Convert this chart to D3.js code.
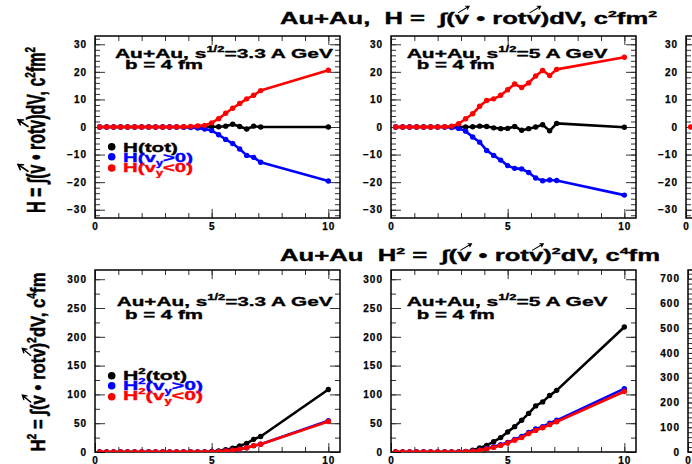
<!DOCTYPE html>
<html><head><meta charset="utf-8">
<script src="https://cdn.jsdelivr.net/npm/d3@7"></script>
<style>
html,body{margin:0;padding:0;background:#fff;}
svg{display:block;font-family:"Liberation Sans",Arial,Helvetica,sans-serif;font-weight:bold;}
text{white-space:pre;}
</style></head><body>
<svg id="chart" width="692" height="464"></svg>
<script>
// time steps, fm/c
const tSteps = [0.2,0.5,0.8,1.1,1.4,1.7,2.0,2.3,2.6,2.9,3.2,3.5,3.8,4.1,4.4,4.7,5.0,5.3,5.6,5.9,6.2,6.5,6.8,7.1,10];

// H = integral of v.rot v, sqrt(s)=3.3 A GeV
const hTot33 = [0,0,0,0,0,0,0,0,0,0,0,0,0,0,0,0,0.1,0.1,0.3,1.0,0.2,-0.7,0.3,0,0];
const hPos33 = [0,0,0,0,0,0,0,0,0,0,0,0,-0.1,-0.2,-0.4,-0.7,-1.3,-2.8,-4.5,-6.0,-8.0,-10.3,-11.0,-12.8,-19.6];
const hNeg33 = [0,0,0,0,0,0,0,0,0,0,0,0,0.1,0.2,0.4,0.6,1.5,3.0,5.0,6.8,8.5,10.2,11.5,13.2,20.6];

// H, sqrt(s)=5 A GeV
const hTot5 = [0,0,0,0,0,0,0,0,0,0,0,0.1,0.3,0.2,-0.3,-0.6,-0.5,0.2,-1.2,-0.6,0,0.8,-1.4,1.3,-0.1];
const hPos5 = [0,0,0,0,0,0,0,0,-0.2,-0.5,-1.5,-3.6,-5.5,-8.5,-10.3,-12.0,-14.0,-15.0,-15.2,-16.5,-18.5,-19.5,-19.2,-19.4,-24.7];
const hNeg5 = [0,0,0,0,0,0,0,0.1,0.3,1.2,3.0,4.8,7.5,9.6,10.2,11.5,13.5,15.6,14.3,16.0,18.5,20.5,18.7,20.9,25.3];

// H^2, sqrt(s)=3.3 A GeV
const h2Tot33 = [0,0,0,0,0,0,0,0,0,0,0,0,0,0,0,0.3,0.8,2,4,6.5,10.5,15,22,27,108.5];
const h2Pos33 = [0,0,0,0,0,0,0,0,0,0,0,0,0,0,0,0,0.3,0.8,2,3.2,5,7.5,11,13.5,54.5];
const h2Neg33 = [0,0,0,0,0,0,0,0,0,0,0,0,0,0,0,0,0.3,0.8,2,3.2,5,7.5,11,13.5,53];

// H^2, sqrt(s)=5 A GeV
const h2Tot5 = [0,0,0,0,0,0,0,0,0,0.3,1,3,7,11.5,18,25,34.8,44,55,67,80,87,98,107,217];
const h2Pos5 = [0,0,0,0,0,0,0,0,0,0,0.5,1.5,3.5,6,9,12.5,16.5,22,27,34,40,44,50,55,110];
const h2Neg5 = [0,0,0,0,0,0,0,0,0,0,0.5,1.3,3,5.5,8,11.5,15.5,20.5,25,32,37.5,42,47.5,52.5,105];

// neighbouring panel (only its left edge shows)
const edgeT = [0.2];
const edgeH = [0];

// axis tick labels
const xTicks = [0,5,10];
const hTicks = [-30,-20,-10,0,10,20,30];
const h2Ticks = [0,50,100,150,200,250,300];
const edgeH2Ticks = [0,100,200,300,400,500,600,700];

// text pieces
const titleTop = [{t:"Au+Au,  H =  \u222B("},{t:"v",arrow:1},{t:" \u2022 rot"},{t:"v",arrow:1},{t:")dV, c"},{t:"2",sup:1},{t:"fm"},{t:"2",sup:1}];
const titleBottom = [{t:"Au+Au  H"},{t:"2",sup:1},{t:" =  \u222B("},{t:"v",arrow:1},{t:" \u2022 rot"},{t:"v",arrow:1},{t:")"},{t:"2",sup:1},{t:"dV, c"},{t:"4",sup:1},{t:"fm"}];
const yTitleTop = [{t:"H = \u222B("},{t:"v",arrow:1},{t:" \u2022 rot"},{t:"v",arrow:1},{t:")dV, c"},{t:"2",sup:1},{t:"fm"},{t:"2",sup:1}];
const yTitleBottom = [{t:"H"},{t:"2",sup:1},{t:" = \u222B("},{t:"v",arrow:1},{t:" \u2022 rot"},{t:"v",arrow:1},{t:")"},{t:"2",sup:1},{t:"dV, c"},{t:"4",sup:1},{t:"fm"}];
const energy33 = [{t:"Au+Au, s"},{t:"1/2",sup:1},{t:"=3.3 A GeV"}];
const energy5 = [{t:"Au+Au, s"},{t:"1/2",sup:1},{t:"=5 A GeV"}];
const impact = [{t:"b = 4 fm"}];
const legendH = [
  [{t:"H(tot)"}],
  [{t:"H(v"},{t:"y",sub:1},{t:">0)"}],
  [{t:"H(v"},{t:"y",sub:1},{t:"<0)"}]
];
const legendH2 = [
  [{t:"H"},{t:"2",sup:1},{t:"(tot)"}],
  [{t:"H"},{t:"2",sup:1},{t:"(v"},{t:"y",sub:1},{t:">0)"}],
  [{t:"H"},{t:"2",sup:1},{t:"(v"},{t:"y",sub:1},{t:"<0)"}]
];

const BLACK = "#000000", BLUE = "#0000ff", RED = "#ff0000";
const seriesColors = [BLACK, BLUE, RED];

const svg = d3.select("#chart");
const defs = svg.append("defs");

// Lay out a run of text pieces (with sup/sub and vector arrows), stretched to a given width
function rich(parent, segs, o) {
  const g = parent.append("g")
    .attr("transform", `translate(${o.x},${o.y})` + (o.rotate ? " rotate(-90)" : ""));
  const inner = g.append("g");
  const fs = o.fs;
  const col = o.color || BLACK;
  let cx = 0;
  const arrows = [];
  segs.forEach(s => {
    const small = s.sup || s.sub;
    const el = inner.append("text")
      .attr("x", cx)
      .attr("y", s.sup ? -fs * 0.42 : s.sub ? fs * 0.3 : 0)
      .attr("font-size", small ? fs * 0.62 : fs)
      .attr("fill", col)
      .attr("stroke", col).attr("stroke-width", o.heavy || 0.35)
      .text(s.t);
    const w = el.node().getComputedTextLength();
    if (s.arrow) arrows.push([cx, w]);
    cx += w;
  });
  const sx = o.width ? o.width / cx : 1;
  inner.attr("transform", `scale(${sx},1)`);
  arrows.forEach(([ax, w]) => {
    const x0 = (ax + w * 0.25) * sx, y0 = -fs * 0.68;
    const x1 = (ax + w * 1.0) * sx, y1 = -fs * 1.08;
    const a = Math.atan2(y1 - y0, x1 - x0);
    const hl = fs * 0.22;
    const p1 = [x1 - hl * Math.cos(a - 0.55), y1 - hl * Math.sin(a - 0.55)];
    const p2 = [x1 - hl * Math.cos(a + 0.55), y1 - hl * Math.sin(a + 0.55)];
    g.append("path")
      .attr("d", `M${x0},${y0}L${x1},${y1}M${p1[0]},${p1[1]}L${x1},${y1}L${p2[0]},${p2[1]}`)
      .attr("fill", "none").attr("stroke", col)
      .attr("stroke-width", Math.max(1.1, fs * 0.065)).attr("stroke-linecap", "round");
  });
  return g;
}

const panels = [
  {left:95,  top:36,  w:245, h:182, yDom:[-33,33], yTicks:hTicks, yMinor:2,
   series:[{t:tSteps,v:hTot33},{t:tSteps,v:hPos33},{t:tSteps,v:hNeg33}]},
  {left:391, top:36,  w:245, h:182, yDom:[-33,33], yTicks:hTicks, yMinor:2,
   series:[{t:tSteps,v:hTot5},{t:tSteps,v:hPos5},{t:tSteps,v:hNeg5}]},
  {left:686, top:36,  w:245, h:182, yDom:[-33,33], yTicks:hTicks, yMinor:2,
   series:[{t:edgeT,v:edgeH,c:RED}]},
  {left:95,  top:270, w:245, h:182, yDom:[0,316], yTicks:h2Ticks, yMinor:25, clip:true,
   series:[{t:tSteps,v:h2Tot33},{t:tSteps,v:h2Pos33},{t:tSteps,v:h2Neg33}]},
  {left:391, top:270, w:245, h:182, yDom:[0,316], yTicks:h2Ticks, yMinor:25, clip:true,
   series:[{t:tSteps,v:h2Tot5},{t:tSteps,v:h2Pos5},{t:tSteps,v:h2Neg5}]},
  {left:688, top:270, w:245, h:182, yDom:[0,735], yTicks:edgeH2Ticks, yMinor:20, clip:true,
   series:[]}
];

panels.forEach((p, pi) => {
  const x = d3.scaleLinear().domain([0, 10.5]).range([p.left, p.left + p.w]);
  const y = d3.scaleLinear().domain(p.yDom).range([p.top + p.h, p.top]);
  const g = svg.append("g");
  const xMinor = d3.range(0, 10.5, 1);
  const yMinor = d3.range(Math.ceil(p.yDom[0] / p.yMinor) * p.yMinor, p.yDom[1] + 1e-9, p.yMinor);
  const fmt = d3.format("d");

  const styleAxis = sel => {
    sel.select(".domain").remove();
    sel.selectAll(".tick line").attr("stroke", "#333").attr("stroke-width", 1);
    sel.selectAll(".tick text").attr("font-size", 10).attr("font-weight", "bold")
      .attr("letter-spacing", 1).attr("fill", BLACK)
      .attr("stroke", BLACK).attr("stroke-width", 0.25)
      .attr("font-family", '"Liberation Sans",Arial,sans-serif');
  };

  // minor ticks on all four sides
  g.append("g").attr("transform", `translate(${p.left},0)`)
    .call(d3.axisLeft(y).tickValues(yMinor).tickSizeInner(-5).tickSizeOuter(0).tickFormat(""))
    .call(styleAxis);
  g.append("g").attr("transform", `translate(${p.left + p.w},0)`)
    .call(d3.axisRight(y).tickValues(yMinor).tickSizeInner(-5).tickSizeOuter(0).tickFormat(""))
    .call(styleAxis);
  g.append("g").attr("transform", `translate(0,${p.top + p.h})`)
    .call(d3.axisBottom(x).tickValues(xMinor).tickSizeInner(-5).tickSizeOuter(0).tickFormat(""))
    .call(styleAxis);
  g.append("g").attr("transform", `translate(0,${p.top})`)
    .call(d3.axisTop(x).tickValues(xMinor).tickSizeInner(-5).tickSizeOuter(0).tickFormat(""))
    .call(styleAxis);

  // major ticks and labels
  g.append("g").attr("transform", `translate(${p.left},0)`)
    .call(d3.axisLeft(y).tickValues(p.yTicks).tickSizeInner(-10).tickSizeOuter(0).tickPadding(8).tickFormat(fmt))
    .call(styleAxis)
    .call(s => s.selectAll(".tick text").attr("text-anchor", "end"));
  g.append("g").attr("transform", `translate(${p.left + p.w},0)`)
    .call(d3.axisRight(y).tickValues(p.yTicks).tickSizeInner(-10).tickSizeOuter(0).tickFormat(""))
    .call(styleAxis);
  g.append("g").attr("transform", `translate(0,${p.top + p.h})`)
    .call(d3.axisBottom(x).tickValues(xTicks).tickSizeInner(-9).tickSizeOuter(0).tickPadding(5).tickFormat(fmt))
    .call(styleAxis);
  g.append("g").attr("transform", `translate(0,${p.top})`)
    .call(d3.axisTop(x).tickValues(xTicks).tickSizeInner(-9).tickSizeOuter(0).tickFormat(""))
    .call(styleAxis);

  // frame
  g.append("rect").attr("x", p.left).attr("y", p.top).attr("width", p.w).attr("height", p.h)
    .attr("fill", "none").attr("stroke", BLACK).attr("stroke-width", 1.5);

  // data
  const dg = g.append("g");
  if (p.clip) {
    const id = "clip" + pi;
    defs.append("clipPath").attr("id", id).append("rect")
      .attr("x", p.left).attr("y", p.top).attr("width", p.w).attr("height", p.h);
    dg.attr("clip-path", `url(#${id})`);
  }
  p.series.forEach((s, si) => {
    const col = s.c || seriesColors[si];
    const idx = d3.range(s.v.length);
    const line = d3.line().x(i => x(s.t[i])).y(i => y(s.v[i]));
    dg.append("path").datum(idx).attr("d", line)
      .attr("fill", "none").attr("stroke", col).attr("stroke-width", 2.6)
      .attr("stroke-linejoin", "round");
    dg.selectAll(null).data(idx).join("circle")
      .attr("cx", i => x(s.t[i])).attr("cy", i => y(s.v[i]))
      .attr("r", 2.7).attr("fill", col);
  });
});

// titles
rich(svg, titleTop, {x:280, y:23.5, fs:16, width:377});
rich(svg, titleBottom, {x:280, y:261, fs:16, width:380});

// y-axis titles
rich(svg, yTitleTop, {x:45, y:213, fs:25, width:166, rotate:true, heavy:0.5});
rich(svg, yTitleBottom, {x:45, y:451.5, fs:21, width:179, rotate:true, heavy:0.5});

// annotations inside panels
rich(svg, energy33, {x:115, y:57.5, fs:13.5, width:218});
rich(svg, impact, {x:125, y:69, fs:13.5, width:78});
rich(svg, energy5, {x:406.7, y:57.5, fs:13.5, width:201});
rich(svg, impact, {x:416.7, y:69, fs:13.5, width:78});
rich(svg, energy33, {x:116.7, y:306, fs:13.5, width:216});
rich(svg, impact, {x:125, y:318.5, fs:13.5, width:78});
rich(svg, energy5, {x:406.7, y:306, fs:13.5, width:201});
rich(svg, impact, {x:416.7, y:318.5, fs:13.5, width:78});

// legends
const legTop = [{my:146.7, by:151.5, w:55}, {my:156.7, by:161.7, w:70}, {my:168, by:172, w:70}];
legendH.forEach((segs, i) => {
  svg.append("circle").attr("cx", 111.7).attr("cy", legTop[i].my).attr("r", 3.8).attr("fill", seriesColors[i]);
  rich(svg, segs, {x:123, y:legTop[i].by, fs:13.5, width:legTop[i].w, color:seriesColors[i]});
});
const legBot = [{my:375.7, by:379.5, w:64}, {my:385.7, by:389.5, w:80}, {my:396.7, by:400, w:80}];
legendH2.forEach((segs, i) => {
  svg.append("circle").attr("cx", 111.7).attr("cy", legBot[i].my).attr("r", 3.8).attr("fill", seriesColors[i]);
  rich(svg, segs, {x:123, y:legBot[i].by, fs:13.5, width:legBot[i].w, color:seriesColors[i]});
});
</script></body></html>
